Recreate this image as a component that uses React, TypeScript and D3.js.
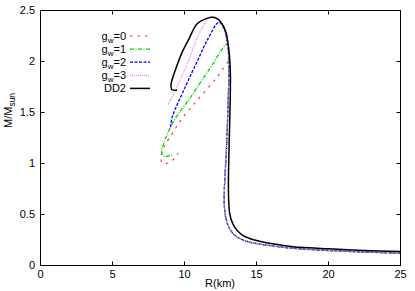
import React, { useRef, useEffect } from 'react';
import * as d3 from 'd3';

// mass-radius curves, [R (km), M/Msun]
const dd2: [number, number][] = [
  [25, 0.137], [22.5, 0.148], [20, 0.163], [18, 0.178], [16.9, 0.196], [16, 0.215],
  [14.8, 0.252], [14.1, 0.29], [13.66, 0.343], [13.35, 0.41], [13.15, 0.5], [13.08, 0.6],
  [13.05, 0.8], [13.07, 1.0], [13.12, 1.3], [13.17, 1.6], [13.19, 1.85], [13.15, 2.0],
  [13.05, 2.15], [12.85, 2.3], [12.5, 2.39], [12.2, 2.425], [11.92, 2.435], [11.5, 2.42],
  [10.88, 2.37], [10.3, 2.22], [9.8, 2.08], [9.45, 1.95], [9.2, 1.85], [9.06, 1.77],
  [9.12, 1.725], [9.49, 1.718],
];

// low-mass branch shared by all g_w curves
const lowBranch: [number, number][] = [
  [25, 0.12], [22.5, 0.132], [20, 0.147], [18, 0.163], [16.9, 0.178], [16, 0.195],
  [14.6, 0.226], [13.9, 0.26], [13.43, 0.305], [13.1, 0.37], [12.9, 0.45], [12.78, 0.56],
  [12.76, 0.7], [12.82, 0.9], [12.9, 1.1], [12.97, 1.35], [13.03, 1.6], [13.07, 1.8],
];

const gw0Top: [number, number][] = [
  [13.08, 1.95], [13.08, 2.0], [12.27, 1.846], [10.88, 1.62], [9.72, 1.42], [9.14, 1.29],
  [8.63, 1.176], [8.38, 1.08], [8.45, 1.003], [8.91, 1.006], [9.26, 1.046], [9.56, 1.1],
];
const gw1Top: [number, number][] = [
  [13.06, 2.0], [12.96, 2.17], [11.8, 1.94], [10.42, 1.65], [9.26, 1.42], [8.91, 1.32],
  [8.56, 1.2], [8.42, 1.11], [8.6, 1.07], [9.03, 1.078], [9.14, 1.085],
];
const gw2Top: [number, number][] = [
  [13.1, 2.0], [13.0, 2.15], [12.8, 2.3], [12.4, 2.385], [11.57, 2.206], [10.88, 2.0],
  [10.1, 1.765], [9.14, 1.45], [9.03, 1.34],
];
const gw3Top: [number, number][] = [
  [13.1, 2.0], [13.0, 2.15], [12.8, 2.3], [12.5, 2.39], [12.2, 2.43], [11.8, 2.44],
  [11.11, 2.3], [10.19, 1.977], [9.375, 1.716], [8.84, 1.575],
];

const xTicks = [0, 5, 10, 15, 20, 25];
const yTicks = [0, 0.5, 1, 1.5, 2, 2.5];

const series = [
  { sub: '0', data: lowBranch.concat(gw0Top), color: '#ff2a2a', dash: '2.5,5', width: 1.1 },
  { sub: '1', data: lowBranch.concat(gw1Top), color: '#00d800', dash: '4,1.5,1,1.5', width: 1.3 },
  { sub: '2', data: lowBranch.concat(gw2Top), color: '#0000ff', dash: '3,1.5', width: 1.3 },
  { sub: '3', data: lowBranch.concat(gw3Top), color: '#ee82ee', dash: '1,1', width: 1.3 },
];

const W = 415;
const H = 291;
const FONT = '"Liberation Sans", Arial, sans-serif';

const App = () => {
  const svgRef = useRef<SVGSVGElement>(null);

  useEffect(() => {
    const svg = d3.select(svgRef.current);
    svg.selectAll('*').remove();

    const x = d3.scaleLinear().domain([0, 25]).range([40.5, 400.5]);
    const y = d3.scaleLinear().domain([0, 2.5]).range([265.5, 10.5]);

    const g = svg.append('g');

    // curves
    const line = d3.line<[number, number]>()
      .x(d => x(d[0]))
      .y(d => y(d[1]))
      .curve(d3.curveCatmullRom.alpha(0.5));

    series.forEach(s => {
      g.append('path')
        .datum(s.data)
        .attr('fill', 'none')
        .attr('stroke', s.color)
        .attr('stroke-width', s.width)
        .attr('stroke-dasharray', s.dash)
        .attr('d', line);
    });
    g.append('path')
      .datum(dd2)
      .attr('fill', 'none')
      .attr('stroke', '#000')
      .attr('stroke-width', 1.5)
      .attr('d', line);

    // frame
    g.append('rect')
      .attr('x', x(0)).attr('y', y(2.5))
      .attr('width', x(25) - x(0)).attr('height', y(0) - y(2.5))
      .attr('fill', 'none').attr('stroke', '#000').attr('stroke-width', 1);

    // ticks (inward, mirrored)
    const tl = 4;
    xTicks.forEach(t => {
      g.append('line').attr('x1', x(t)).attr('x2', x(t)).attr('y1', y(0)).attr('y2', y(0) - tl).attr('stroke', '#000');
      g.append('line').attr('x1', x(t)).attr('x2', x(t)).attr('y1', y(2.5)).attr('y2', y(2.5) + tl).attr('stroke', '#000');
      g.append('text')
        .attr('x', x(t)).attr('y', 277.5)
        .attr('text-anchor', 'middle')
        .style('font', `11px ${FONT}`)
        .text(t);
    });
    yTicks.forEach(t => {
      g.append('line').attr('x1', x(0)).attr('x2', x(0) + tl).attr('y1', y(t)).attr('y2', y(t)).attr('stroke', '#000');
      g.append('line').attr('x1', x(25)).attr('x2', x(25) - tl).attr('y1', y(t)).attr('y2', y(t)).attr('stroke', '#000');
      g.append('text')
        .attr('x', 35).attr('y', y(t) + 3)
        .attr('text-anchor', 'end')
        .style('font', `11px ${FONT}`)
        .text(t);
    });

    // axis labels
    g.append('text')
      .attr('x', 220).attr('y', 287)
      .attr('text-anchor', 'middle')
      .style('font', `11px ${FONT}`)
      .text('R(km)');

    const yl = g.append('text')
      .attr('transform', 'translate(12,128) rotate(-90)')
      .style('font', `11px ${FONT}`);
    yl.append('tspan').text('M/M');
    yl.append('tspan').attr('dy', 3).style('font-size', '8.5px').text('sun');

    // legend
    const ly0 = 36;
    const step = 13.1;
    series.forEach((s, i) => {
      const ly = ly0 + i * step;
      const t = g.append('text')
        .attr('x', 126).attr('y', ly + 4)
        .attr('text-anchor', 'end')
        .style('font', `11px ${FONT}`);
      t.append('tspan').text('g');
      t.append('tspan').attr('dy', 2.5).style('font-size', '8px').text('w');
      t.append('tspan').attr('dy', -2.5).text('=' + s.sub);
      g.append('line')
        .attr('x1', 130).attr('x2', 150).attr('y1', ly).attr('y2', ly)
        .attr('stroke', s.color).attr('stroke-width', s.width)
        .attr('stroke-dasharray', s.dash);
    });
    const ly = ly0 + 4 * step;
    g.append('text')
      .attr('x', 126).attr('y', ly + 4)
      .attr('text-anchor', 'end')
      .style('font', `11px ${FONT}`)
      .text('DD2');
    g.append('line')
      .attr('x1', 130).attr('x2', 150).attr('y1', ly).attr('y2', ly)
      .attr('stroke', '#000').attr('stroke-width', 1.5);
  }, []);

  return (
    <div style={{ position: 'absolute', left: 0, top: 0 }}>
      <svg ref={svgRef} width={W} height={H} style={{ display: 'block', background: '#fff' }}></svg>
    </div>
  );
};

export default App;
